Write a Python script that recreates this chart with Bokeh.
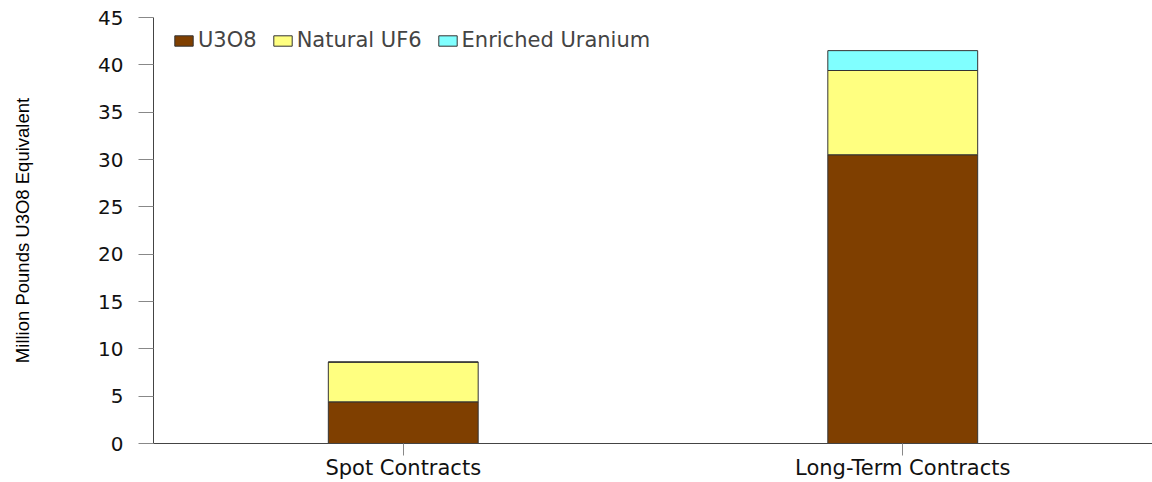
from bokeh.plotting import figure
from bokeh.models import FactorRange, Range1d, Legend, SingleIntervalTicker
from bokeh.embed import file_html
from bokeh.resources import INLINE

categories = ["Spot Contracts", "Long-Term Contracts"]
u3o8 = [4.4, 30.5]
natural_uf6 = [4.2, 8.9]
enriched = [0.0, 2.1]
series = ["U3O8", "Natural UF6", "Enriched Uranium"]
colors = ["#7F3F00", "#FFFF80", "#80FFFF"]

data = {"cat": categories, "U3O8": u3o8, "Natural UF6": natural_uf6,
        "Enriched Uranium": enriched}

FONT = "DejaVu Sans"
LABEL_FONT = "Liberation Sans"

p = figure(x_range=FactorRange(*categories, range_padding=0),
           y_range=Range1d(0, 45),
           width=1152, height=482, output_backend="svg", toolbar_location=None,
           min_border_left=153, min_border_top=17, min_border_bottom=39,
           min_border_right=0)

renderers = p.vbar_stack(series, x="cat", width=0.3, source=data,
                         fill_color=colors, line_color="#333333", line_width=1)

p.outline_line_color = None
p.grid.visible = False
p.background_fill_color = "white"

# y axis
p.yaxis.ticker = SingleIntervalTicker(interval=5)
p.yaxis.axis_label = "Million Pounds U3O8 Equivalent"
p.yaxis.axis_label_text_font = LABEL_FONT
p.yaxis.axis_label_text_font_size = "18.5px"
p.yaxis.axis_label_text_font_style = "normal"
p.yaxis.axis_label_text_color = "#000000"
p.yaxis.axis_label_standoff = 62
p.yaxis.major_tick_out = 15
p.yaxis.major_tick_in = 0
p.yaxis.minor_tick_out = 0
p.yaxis.minor_tick_in = 0
p.yaxis.major_label_standoff = 15
p.yaxis.major_label_text_font_size = "20px"

# x axis
p.xaxis.major_tick_out = 12
p.xaxis.major_tick_in = 0
p.xaxis.major_label_standoff = 0
p.xaxis.major_label_text_font_size = "21px"

for ax in (p.xaxis, p.yaxis):
    ax.axis_line_color = "#444444"
    ax.major_tick_line_color = "#888888"
    ax.major_label_text_font = FONT
    ax.major_label_text_color = "#111111"

legend = Legend(items=[(s, [r]) for s, r in zip(series, renderers)],
                location=(19, 391), orientation="horizontal",
                border_line_color=None, background_fill_alpha=0,
                glyph_width=23, glyph_height=13, label_text_font=FONT,
                label_text_font_size="21px", label_standoff=3, spacing=14,
                padding=0, margin=0)
p.add_layout(legend)

open("out.html", "w").write(file_html(p, INLINE))
